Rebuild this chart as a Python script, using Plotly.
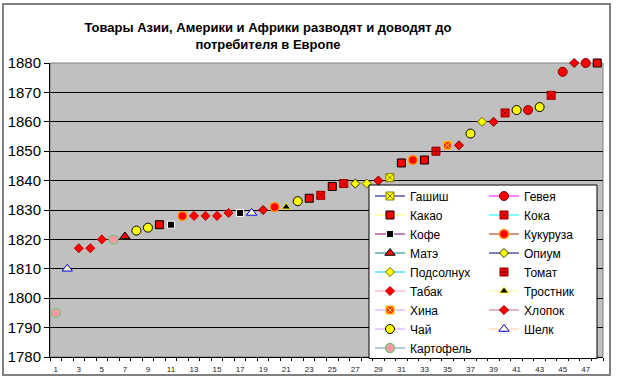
import plotly.graph_objects as go

# ---------------- data ----------------
point_no = list(range(1, 49))
years = [1795, 1810, 1817, 1817, 1820, 1820, 1821, 1823, 1824, 1825,
         1825, 1828, 1828, 1828, 1828, 1829, 1829, 1829, 1830, 1831,
         1831, 1833, 1834, 1835, 1838, 1839, 1839, 1839, 1840, 1841,
         1846, 1847, 1847, 1850, 1852, 1852, 1856, 1860, 1860, 1863,
         1864, 1864, 1865, 1869, 1877, 1880, 1880, 1880]
goods = ["Картофель", "Шелк", "Табак", "Табак", "Табак", "Картофель", "Матэ", "Чай", "Чай", "Какао",
         "Кофе", "Кукуруза", "Табак", "Табак", "Табак", "Табак", "Кофе", "Шелк", "Хлопок", "Кукуруза",
         "Тростник", "Чай", "Какао", "Кока", "Какао", "Кока", "Опиум", "Подсолнух", "Хлопок", "Гашиш",
         "Какао", "Кукуруза", "Какао", "Томат", "Хина", "Хлопок", "Чай", "Подсолнух", "Хлопок", "Кока",
         "Чай", "Гевея", "Чай", "Кока", "Гевея", "Хлопок", "Гевея", "Какао"]
legend_left = ["Гашиш", "Какао", "Кофе", "Матэ", "Подсолнух", "Табак", "Хина", "Чай", "Картофель"]
legend_right = ["Гевея", "Кока", "Кукуруза", "Опиум", "Томат", "Тростник", "Хлопок", "Шелк"]
x_tick_values = list(range(1, 48, 2))
x_tick_labels = [str(v) for v in x_tick_values]
title_text = "Товары Азии, Америки и Африки разводят и доводят до<br>потребителя в Европе"

# ---------------- styles ----------------
# name: (symbol, size, fill, outline, outline width, legend line colour)
styles = {
    "Гашиш":     ("square-x", 8, "#FFFF00", "#808000", 1, "#000080"),
    "Гевея":     ("circle", 9, "#FF0000", "#800000", 1, "#FF00FF"),
    "Какао":     ("square", 8, "#FF0000", "#000000", 1, "#FFFF66"),
    "Кока":      ("square-x", 8, "#FF0000", "#990000", 1, "#00FFFF"),
    "Кофе":      ("square", 7, "#000000", "#FFFFFF", 1, "#800080"),
    "Кукуруза":  ("circle", 9, "#FF0000", "#FF9900", 1.5, "#993300"),
    "Матэ":      ("triangle-up", 9, "#FF0000", "#000000", 1, "#008080"),
    "Опиум":     ("diamond", 7, "#FFFF00", "#333300", 1, "#000080"),
    "Подсолнух": ("diamond", 7, "#FFFF00", "#666600", 1, "#00CCFF"),
    "Томат":     ("square-cross", 8, "#FF0000", "#800000", 1, "#E8FFFF"),
    "Табак":     ("diamond", 7, "#FF0000", "#CC0000", 1, "#FF99CC"),
    "Тростник":  ("triangle-up", 8, "#000000", "#FFFF00", 1, "#FFFF99"),
    "Хина":      ("square-x", 8, "#FF3300", "#FFCC00", 1, "#CC99FF"),
    "Хлопок":    ("diamond", 7, "#FF0000", "#800000", 1, "#CC6699"),
    "Чай":       ("circle", 9, "#FFFF00", "#000000", 1, "#CC99FF"),
    "Шелк":      ("triangle-up", 9, "#FFFFCC", "#0000FF", 1, "#FFCC99"),
    "Картофель": ("circle", 9, "#FF99AA", "#80C080", 1.5, "#6699AA"),
}


def isolated(values):
    out = []
    for i, v in enumerate(values):
        if i:
            out.append(None)
        out.append(v)
    return out


FONT = "Liberation Sans, Arial, sans-serif"
fig = go.Figure()
for legend_id, names in (("legend", legend_left), ("legend2", legend_right)):
    for name in names:
        xs = [p for p, g in zip(point_no, goods) if g == name]
        ys = [y for y, g in zip(years, goods) if g == name]
        sym, size, fill, outline, ow, lc = styles[name]
        fig.add_trace(go.Scatter(
            x=isolated(xs), y=isolated(ys), name=name, legend=legend_id,
            mode="lines+markers", connectgaps=False, cliponaxis=False,
            line=dict(color=lc, width=1),
            marker=dict(symbol=sym, size=size, color=fill,
                        line=dict(color=outline, width=ow)),
            hoverinfo="x+y+name",
        ))

L, R, T, B = 50, 17, 63, 25
W, H = 620, 382
pw, ph = W - L - R, H - T - B


def px_x(x):
    return (x - L) / pw


def px_y(y):
    return (H - B - y) / ph


legend_common = dict(bgcolor="rgba(0,0,0,0)", borderwidth=0, xanchor="left", yanchor="top",
                     font=dict(family=FONT, size=12, color="black"), itemwidth=30,
                     tracegroupgap=0, traceorder="normal")

fig.update_layout(
    template="none",
    width=W, height=H,
    margin=dict(l=L, r=R, t=T, b=B, autoexpand=False),
    paper_bgcolor="white", plot_bgcolor="#C0C0C0",
    font=dict(family=FONT, color="black"),
    title=dict(text=title_text, x=268 / W, xanchor="center", xref="container",
               y=1 - 32 / H, yanchor="top", automargin=False,
               font=dict(family=FONT, size=13, color="black", weight="bold")),
    showlegend=True,
    legend=dict(x=px_x(370), y=px_y(181.5), **legend_common),
    legend2=dict(x=px_x(484), y=px_y(181.5), **legend_common),
    xaxis=dict(range=[0.5, 48.5], tickmode="array", tickvals=x_tick_values, ticktext=x_tick_labels,
               showgrid=False, zeroline=False, showline=True, linecolor="black", linewidth=1,
               ticks="outside", ticklen=4, tickcolor="rgba(0,0,0,0)", automargin=False,
               minor=dict(tickmode="linear", tick0=0.5, dtick=1, ticks="outside", ticklen=3,
                          tickcolor="black", showgrid=False),
               tickfont=dict(family=FONT, size=8, color="#222222"), fixedrange=True),
    yaxis=dict(range=[1780, 1880], tickmode="linear", tick0=1780, dtick=10,
               showgrid=True, gridcolor="black", gridwidth=1, zeroline=False,
               showline=True, linecolor="black", linewidth=1, automargin=False,
               ticks="outside", ticklen=5, tickcolor="black",
               tickfont=dict(family=FONT, size=15, color="black"), fixedrange=True),
    shapes=[
        dict(type="rect", xref="paper", yref="paper", x0=0, x1=1, y0=0, y1=1,
             line=dict(color="#808080", width=1), layer="between"),
        dict(type="rect", xref="paper", yref="paper", x0=px_x(3), x1=px_x(610),
             y0=px_y(375), y1=px_y(4), line=dict(color="#808080", width=2)),
        dict(type="rect", xref="paper", yref="paper", x0=px_x(369), x1=px_x(597),
             y0=px_y(358.5), y1=px_y(185), fillcolor="white",
             line=dict(color="black", width=1), layer="above"),
    ],
)

fig.write_html("out.html", config={"displayModeBar": False},
               post_script="document.body.style.margin='0';document.body.style.overflow='hidden';")
